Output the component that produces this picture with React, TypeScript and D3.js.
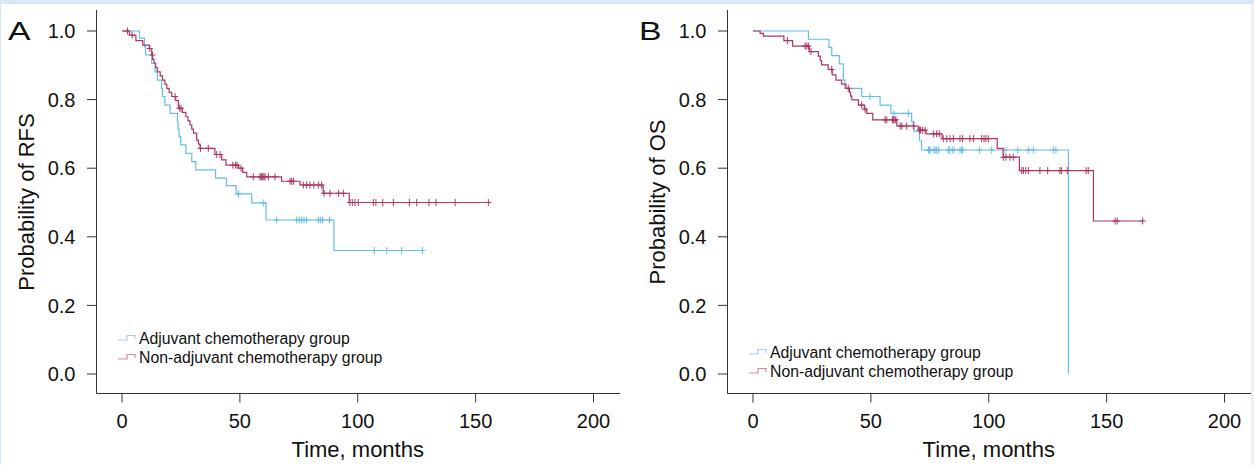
import React from "react";
import * as d3 from "d3";

// ---------- Data ----------
const xTicks = [0, 50, 100, 150, 200];
const yTicks = [0, 0.2, 0.4, 0.6, 0.8, 1.0];
const groupNames = ["Adjuvant chemotherapy group", "Non-adjuvant chemotherapy group"];

// Panel A – RFS, adjuvant
const rfsAdjTime = [7.4, 9.5, 10.0, 12.6, 14.0, 15.0, 16.8, 17.2, 18.2, 20.4, 23.5, 23.8, 24.2, 24.9, 27.1, 29.6, 31.3, 39.7, 44.3, 48.4, 55.0, 61.1, 89.9];
const rfsAdjSurv = [0.979, 0.954, 0.930, 0.906, 0.881, 0.857, 0.833, 0.809, 0.784, 0.760, 0.736, 0.714, 0.692, 0.668, 0.643, 0.619, 0.595, 0.571, 0.549, 0.525, 0.499, 0.449, 0.360];
const rfsAdjCensor = [49.4, 59.9, 65.6, 74.1, 75.2, 76.2, 77.2, 78.3, 83.3, 84.3, 85.1, 88.0, 107.0, 112.3, 118.6, 127.4];
const rfsAdjEnd = 127.4;

// Panel A – RFS, non-adjuvant
const rfsNonTime = [3.1, 5.9, 8.8, 11.6, 12.6, 13.0, 13.6, 14.3, 15.0, 16.2, 17.2, 18.2, 19.0, 20.0, 21.1, 22.8, 23.9, 25.6, 27.1, 28.0, 28.8, 29.6, 30.3, 31.7, 32.4, 33.1, 39.4, 42.3, 44.1, 49.4, 51.2, 52.9, 67.7, 75.5, 85.3, 96.4];
const rfsNonSurv = [0.988, 0.972, 0.959, 0.949, 0.930, 0.917, 0.906, 0.893, 0.881, 0.869, 0.857, 0.845, 0.833, 0.821, 0.809, 0.797, 0.775, 0.763, 0.750, 0.738, 0.726, 0.714, 0.702, 0.682, 0.670, 0.658, 0.640, 0.624, 0.609, 0.600, 0.588, 0.575, 0.562, 0.551, 0.527, 0.500];
const rfsNonCensor = [2.3, 4.3, 11.8, 12.9, 22.5, 24.3, 25.0, 33.3, 36.6, 40.2, 41.6, 47.0, 48.1, 48.8, 50.5, 55.7, 58.5, 59.0, 59.3, 59.7, 60.2, 60.7, 62.1, 64.9, 71.3, 72.0, 72.7, 76.9, 78.3, 79.7, 81.4, 83.3, 84.7, 85.7, 88.2, 91.8, 93.9, 96.7, 97.7, 98.8, 100.2, 106.6, 107.7, 110.6, 115.1, 121.9, 125.0, 130.2, 133.2, 141.3, 155.4];
const rfsNonEnd = 155.4;

// Panel B – OS, adjuvant
const osAdjTime = [23.5, 32.2, 33.4, 36.6, 38.3, 39.0, 46.1, 53.9, 58.5, 67.3, 68.3, 70.6, 71.5, 133.8];
const osAdjSurv = [0.976, 0.952, 0.928, 0.904, 0.857, 0.833, 0.809, 0.784, 0.760, 0.736, 0.707, 0.680, 0.653, 0.0];
const osAdjCensor = [49.6, 59.8, 65.9, 74.4, 74.8, 75.1, 76.8, 77.2, 77.9, 78.6, 82.8, 83.3, 84.5, 85.3, 87.8, 88.5, 88.9, 96.1, 101.2, 106.9, 112.3, 116.8, 118.9, 127.4, 128.5];
const osAdjEnd = 133.8;

// Panel B – OS, non-adjuvant
const osNonTime = [3.0, 4.4, 13.1, 16.8, 23.9, 27.7, 28.5, 29.1, 31.9, 33.6, 35.2, 37.6, 39.4, 40.9, 41.4, 41.9, 44.7, 47.2, 48.2, 50.8, 61.0, 70.1, 73.4, 80.2, 103.6, 106.1, 113.0, 144.4];
const osNonSurv = [0.993, 0.985, 0.972, 0.956, 0.940, 0.927, 0.914, 0.901, 0.888, 0.872, 0.857, 0.845, 0.833, 0.821, 0.810, 0.799, 0.784, 0.772, 0.760, 0.741, 0.723, 0.711, 0.700, 0.686, 0.658, 0.632, 0.593, 0.446];
const osNonCensor = [14.6, 22.1, 22.8, 23.5, 24.6, 33.4, 40.4, 46.1, 47.5, 56.0, 56.7, 59.2, 59.5, 60.2, 60.6, 62.4, 63.1, 65.2, 68.0, 70.6, 71.1, 72.0, 73.0, 76.5, 77.9, 79.0, 80.7, 82.2, 83.6, 85.0, 87.8, 88.9, 92.0, 93.5, 97.0, 98.0, 98.8, 99.8, 106.2, 107.3, 109.0, 110.4, 114.0, 114.7, 115.7, 116.8, 121.7, 125.0, 130.2, 130.9, 133.3, 141.3, 142.2, 153.6, 154.5, 165.3];
const osNonEnd = 165.6;

// ---------- Styling ----------
const BLUE = "#66bdec";
const RED = "#ad3662";
const BLUE_LEG = "#9fd2f2";
const RED_LEG = "#d48aa5";
const FONT = "'Liberation Sans', Arial, Helvetica, sans-serif";

type Series = { time: number[]; surv: number[]; censor: number[]; end: number; color: string };

function survAt(s: Series, t: number) {
  let v = 1;
  for (let i = 0; i < s.time.length; i++) if (s.time[i] <= t) v = s.surv[i];
  return v;
}

function Panel(props: {
  x0: number; letter: string; ylab: string; series: Series[];
  legendY: number;
}) {
  const { x0, letter, ylab, series, legendY } = props;
  const axisX = x0 + 96.5;
  const axisY = 393.5;
  const xs = d3.scaleLinear().domain([0, 200]).range([x0 + 122, x0 + 593.5]);
  const ys = d3.scaleLinear().domain([0, 1]).range([374, 31]);
  const line = d3.line<[number, number]>().x(d => xs(d[0])).y(d => ys(d[1])).curve(d3.curveStepAfter);

  return (
    <g>
      {/* axes */}
      <line x1={axisX} x2={axisX} y1={10} y2={axisY} stroke="#333" strokeWidth={1} />
      <line x1={axisX} x2={x0 + 620} y1={axisY} y2={axisY} stroke="#333" strokeWidth={1} />
      {yTicks.map(v => (
        <g key={"y" + v}>
          <line x1={axisX - 9.5} x2={axisX} y1={ys(v)} y2={ys(v)} stroke="#333" />
          <text x={axisX - 21} y={ys(v)} dy="0.36em" textAnchor="end" fontSize={20} fontFamily={FONT} fill="#111">
            {v.toFixed(1)}
          </text>
        </g>
      ))}
      {xTicks.map(v => (
        <g key={"x" + v}>
          <line x1={xs(v)} x2={xs(v)} y1={axisY} y2={axisY + 9} stroke="#333" />
          <text x={xs(v)} y={428} textAnchor="middle" fontSize={20} fontFamily={FONT} fill="#111">
            {v}
          </text>
        </g>
      ))}
      <text x={(xs(0) + xs(200)) / 2} y={457} textAnchor="middle" fontSize={22} fontFamily={FONT} fill="#111">
        Time, months
      </text>
      <text transform={`translate(${x0 + 34},${202}) rotate(-90)`} textAnchor="middle" fontSize={22} fontFamily={FONT} fill="#111">
        {ylab}
      </text>
      <text transform={`translate(${x0 + 8},${40}) scale(1.3,1)`} fontSize={26} fontFamily={FONT} fill="#111">{letter}</text>

      {/* curves */}
      {series.map((s, i) => {
        const pts: [number, number][] = [[0, 1]];
        s.time.forEach((t, j) => pts.push([t, s.surv[j]]));
        pts.push([s.end, s.surv[s.surv.length - 1]]);
        return (
          <g key={"s" + i}>
            <path d={line(pts) || ""} fill="none" stroke={s.color} strokeWidth={1.2} />
            {s.censor.map((c, k) => {
              const cx = xs(c), cy = ys(survAt(s, c));
              return (
                <path key={k} d={`M${cx - 3},${cy}H${cx + 3}M${cx},${cy - 3.5}V${cy + 3.5}`} stroke={s.color} strokeWidth={1} />
              );
            })}
          </g>
        );
      })}

      {/* legend */}
      {groupNames.map((name, i) => {
        const ly = legendY + i * 19;
        const lx = x0 + 118;
        return (
          <g key={"l" + i}>
            <path d={`M${lx},${ly + 2}H${lx + 9}V${ly - 2.5}H${lx + 17}V${ly + 1}`} fill="none" stroke={i === 0 ? BLUE_LEG : RED_LEG} strokeWidth={1.2} />
            <text x={lx + 21} y={ly} dy="0.36em" fontSize={15.8} fontFamily={FONT} fill="#111">{name}</text>
          </g>
        );
      })}
    </g>
  );
}

export default function App() {
  const W = 1254, H = 465;
  const rfs: Series[] = [
    { time: rfsAdjTime, surv: rfsAdjSurv, censor: rfsAdjCensor, end: rfsAdjEnd, color: BLUE },
    { time: rfsNonTime, surv: rfsNonSurv, censor: rfsNonCensor, end: rfsNonEnd, color: RED },
  ];
  const os: Series[] = [
    { time: osAdjTime, surv: osAdjSurv, censor: osAdjCensor, end: osAdjEnd, color: BLUE },
    { time: osNonTime, surv: osNonSurv, censor: osNonCensor, end: osNonEnd, color: RED },
  ];
  return (
    <svg width={W} height={H} style={{ position: "absolute", left: 0, top: 0 }}>
      <rect x={0} y={0} width={W} height={H} fill="#d7e7f6" />
      <rect x={1} y={4} width={1250} height={H - 4} fill="#ffffff" />
      <rect x={1251} y={4} width={3} height={H - 4} fill="#efefef" />
      <Panel x0={0} letter="A" ylab="Probability of RFS" series={rfs} legendY={338} />
      <Panel x0={631} letter="B" ylab="Probability of OS" series={os} legendY={352} />
    </svg>
  );
}
